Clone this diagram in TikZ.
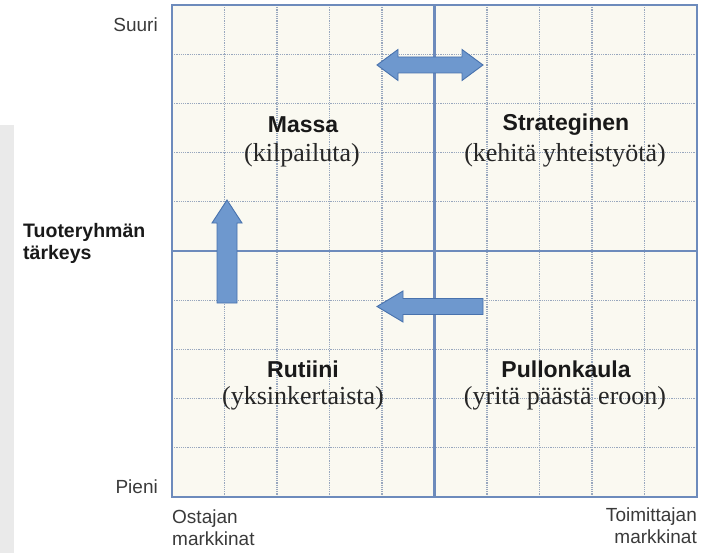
\documentclass[tikz,border=0pt]{standalone}
\usepackage{fontspec}
\setmainfont{Liberation Serif}
\setsansfont{Liberation Sans}
\usepackage{xcolor}
\usetikzlibrary{positioning}

\definecolor{paper}{HTML}{FAF9F1}
\definecolor{gridblue}{HTML}{6D8BBC}
\definecolor{dotblue}{HTML}{98A7BE}
\definecolor{arrowfill}{HTML}{6E98CE}
\definecolor{arrowedge}{HTML}{4872AD}
\definecolor{labelgray}{HTML}{3A3A3A}
\definecolor{sidegray}{HTML}{EAEAEA}

\tikzset{
  axislabel/.style={font=\sffamily\fontsize{19}{22}\selectfont, text=labelgray, inner sep=0pt},
  quadtitle/.style={font=\sffamily\bfseries\fontsize{23}{26}\selectfont, text=black!90, inner sep=0pt},
  quadnote/.style={font=\fontsize{26}{30}\selectfont, text=black!85, inner sep=0pt},
  dotline/.style={dotblue, line width=1.2pt, dash pattern=on 1.2pt off 1pt},
  blockarrow/.style={fill=arrowfill, draw=arrowedge, line width=0.9pt, line join=miter}
}

\begin{document}
\begin{tikzpicture}[x=1pt, y=-1pt]
  \useasboundingbox (0,0) rectangle (711,553);

  % Define the matrix frame
  \def\xl{172}
  \def\xr{697}
  \def\yt{5}
  \def\yb{497}
  \pgfmathsetmacro\xm{(\xl+\xr)/2}
  \pgfmathsetmacro\ym{(\yt+\yb)/2}

  % screenshot edge on the left
  \fill[sidegray] (0,125) rectangle (14,553);

  % paper and dotted grid
  \fill[paper] (\xl,\yt) rectangle (\xr,\yb);
  \foreach \i in {1,...,9} {
    \draw[dotline] (\xl+52.5*\i, \yt) -- (\xl+52.5*\i, \yb);
    \draw[dotline] (\xl, \yt+49.2*\i) -- (\xr, \yt+49.2*\i);
  }

  % frame and middle lines
  \draw[gridblue, line width=2.4pt] (\xm,\yt) -- (\xm,\yb);
  \draw[gridblue, line width=2.4pt] (\xl,\ym) -- (\xr,\ym);
  \draw[gridblue, line width=1.6pt] (\xl,\yt) rectangle (\xr,\yb);

  % block arrows
  \filldraw[blockarrow] (377,65) -- (398,49.5) -- (398,57) -- (462,57) -- (462,49.5)
    -- (483,65) -- (462,80.5) -- (462,73) -- (398,73) -- (398,80.5) -- cycle;
  \filldraw[blockarrow] (377,306.5) -- (403,291) -- (403,298.5) -- (483,298.5)
    -- (483,314.5) -- (403,314.5) -- (403,322) -- cycle;
  \filldraw[blockarrow] (227,200) -- (242,223) -- (237,223) -- (237,303)
    -- (217,303) -- (217,223) -- (212,223) -- cycle;

  % quadrant texts
  \node[quadtitle] (massa) at (303,125) {Massa};
  \node[quadnote] (massanote) at (302,155) {(kilpailuta)};
  \node[quadtitle] (strat) at (566,125) {Strateginen};
  \node[quadnote] (stratnote) at (565,155) {(kehitä yhteistyötä)};
  \node[quadtitle] (rutiini) at (303,369) {Rutiini};
  \node[quadnote] (rutiininote) at (303,398) {(yksinkertaista)};
  \node[quadtitle] (pullon) at (566,369) {Pullonkaula};
  \node[quadnote] (pullonnote) at (565,398) {(yritä päästä eroon)};

  % axis texts
  \node[axislabel, anchor=east] (suuri) at (158,25) {Suuri};
  \node[axislabel, anchor=east] (pieni) at (158,487) {Pieni};
  \node[axislabel, font=\sffamily\bfseries\fontsize{19.5}{22}\selectfont, text=black!90,
        align=left, anchor=west] (tarkeys) at (23,243) {Tuoteryhmän\\tärkeys};
  \node[axislabel, align=left, anchor=north west] (ostaja) at (172,510) {Ostajan\\markkinat};
  \node[axislabel, align=right, anchor=north east] (toimittaja) at (697,508) {Toimittajan\\markkinat};

\end{tikzpicture}
\end{document}
